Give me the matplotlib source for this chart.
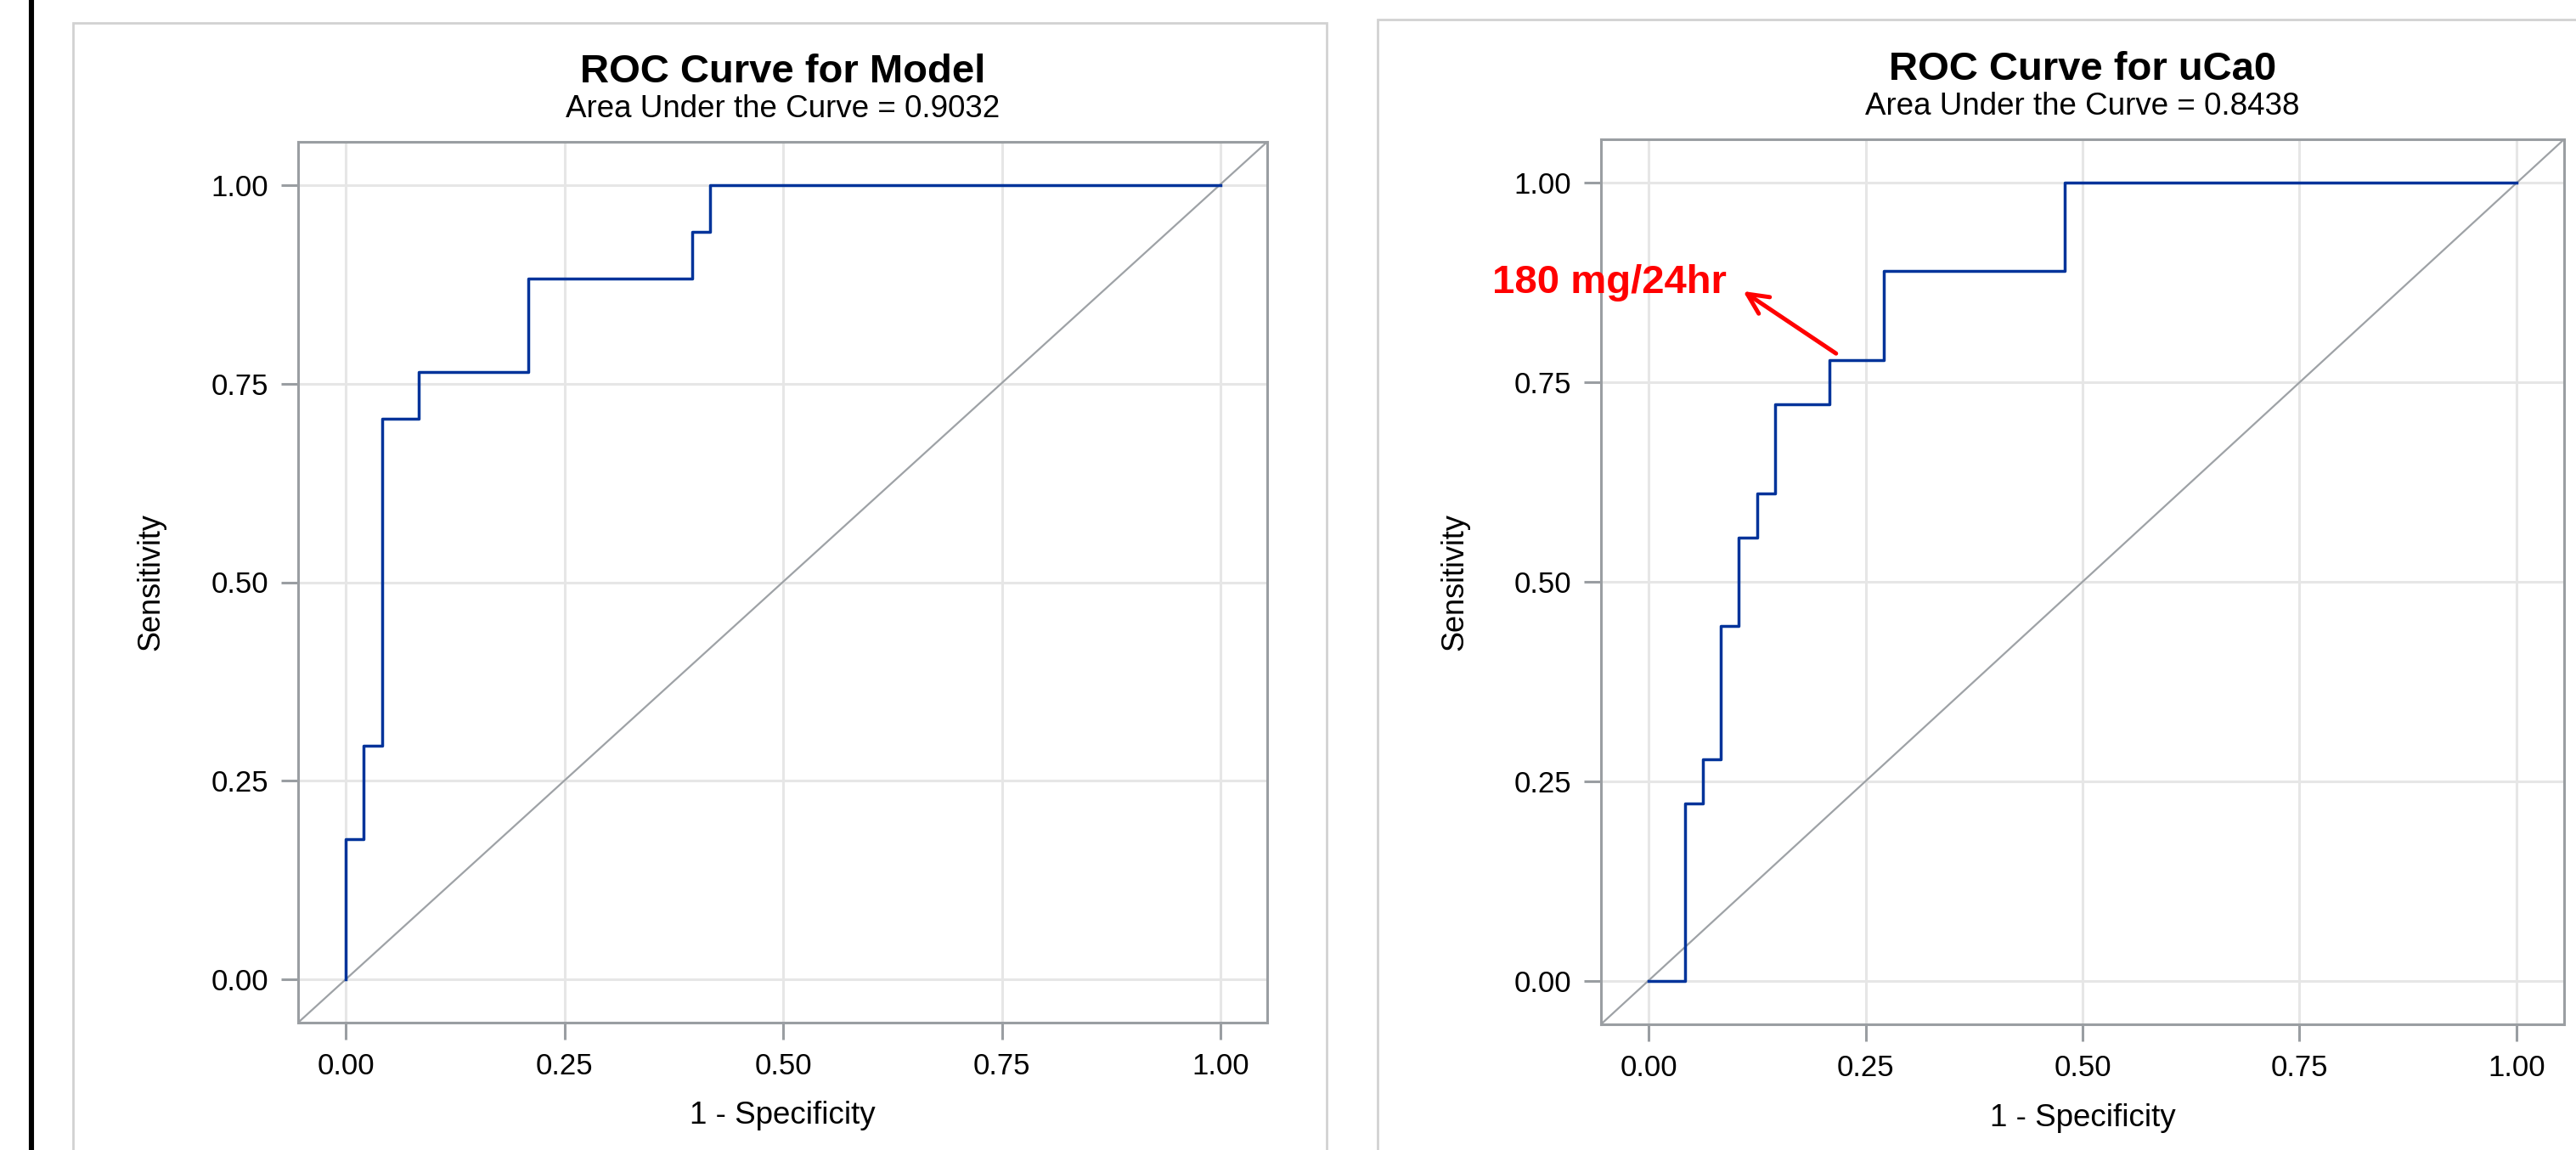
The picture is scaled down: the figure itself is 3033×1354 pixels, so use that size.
import matplotlib
matplotlib.use("Agg")
import matplotlib.pyplot as plt
from matplotlib.patches import Rectangle
from matplotlib.lines import Line2D
from matplotlib.patches import ArrowStyle

plt.rcParams['font.family'] = ['Liberation Sans', 'DejaVu Sans']

# ---------------- data ----------------
model_fpr = [0.0, 0.0, 0.0208, 0.0417, 0.0833, 0.2083, 0.3958, 0.4167, 1.0]
model_tpr = [0.0, 0.1765, 0.2941, 0.7059, 0.7647, 0.8824, 0.9412, 1.0, 1.0]
model_title = "ROC Curve for Model"
model_auc = "Area Under the Curve = 0.9032"

uca_fpr = [0.0, 0.0417, 0.0625, 0.0833, 0.1042, 0.125, 0.1458, 0.2083, 0.2708, 0.4792, 1.0]
uca_tpr = [0.0, 0.2222, 0.2778, 0.4444, 0.5556, 0.6111, 0.7222, 0.7778, 0.8889, 1.0, 1.0]
uca_title = "ROC Curve for uCa0"
uca_auc = "Area Under the Curve = 0.8438"

ticks = [0.0, 0.25, 0.5, 0.75, 1.0]
tick_labels = ["0.00", "0.25", "0.50", "0.75", "1.00"]
annot_text = "180 mg/24hr"
annot_tail = (0.216, 0.786)
annot_head = (0.109, 0.864)
annot_text_pos = (0.090, 0.862)

# ---------------- styling ----------------
W, H = 3033, 1354
CURVE = '#00339A'
DIAG = '#9EA2A6'
SPINE = '#9A9EA2'
GRID = '#E6E6E6'
FRAME = '#D2D2D2'

fig = plt.figure(figsize=(W / 100, H / 100), dpi=100)
fig.patch.set_facecolor('white')


def fx(px):
    return px / W


def fy(py):
    return 1 - py / H


# outer black line at the left
fig.add_artist(Line2D([fx(37), fx(37)], [0, 1], color='black', lw=4.4,
                      transform=fig.transFigure))

# panel frames
fig.add_artist(Rectangle((fx(86), -0.05), fx(1562) - fx(86), fy(27) + 0.05,
                         transform=fig.transFigure, fill=False, ec=FRAME, lw=2.0))
fig.add_artist(Rectangle((fx(1622), -0.05), 0.6, fy(23) + 0.05,
                         transform=fig.transFigure, fill=False, ec=FRAME, lw=2.0))

# axes rectangles (pixel positions)
ax1 = fig.add_axes([fx(351), fy(1204), fx(1492) - fx(351), fy(167) - fy(1204)])
ax2 = fig.add_axes([fx(1885), fy(1206), fx(3019) - fx(1885), fy(164) - fy(1206)])

panels = [
    (ax1, model_fpr, model_tpr, model_title, model_auc, (-0.0544, 1.0534), (-0.0545, 1.0545)),
    (ax2, uca_fpr, uca_tpr, uca_title, uca_auc, (-0.0548, 1.0548), (-0.0543, 1.0543)),
]

for ax, fpr, tpr, title, auc, xl, yl in panels:
    ax.set_xlim(*xl)
    ax.set_ylim(*yl)
    ax.set_axisbelow(True)
    ax.grid(True, color=GRID, lw=2.2)
    # diagonal reference spanning the full axes
    ax.plot([0, 1], [0, 1], transform=ax.transAxes, color=DIAG, lw=1.6, zorder=2)
    ax.plot(fpr, tpr, drawstyle='steps-post', color=CURVE, lw=2.5, zorder=3)
    ax.set_xticks(ticks)
    ax.set_xticklabels(tick_labels)
    ax.set_yticks(ticks)
    ax.set_yticklabels(tick_labels)
    ax.tick_params(axis='both', direction='out', length=14.4, width=2.2,
                   color=SPINE, labelsize=25, labelcolor='black', pad=10.8)
    for s in ax.spines.values():
        s.set_color(SPINE)
        s.set_linewidth(2.2)
    ax.set_xlabel("1 - Specificity", fontsize=26.5)
    ax.set_ylabel("Sensitivity", fontsize=26)
    ax.xaxis.set_label_coords(0.5, -0.106)
    ax.xaxis.label.set_verticalalignment('center')
    ax.yaxis.set_label_coords(-0.152, 0.5)
    ax.yaxis.label.set_verticalalignment('center')
    ax.text(0.5, 1.0675, title, transform=ax.transAxes, ha='center', va='baseline',
            fontsize=34, fontweight='bold')
    ax.text(0.5, 1.028, auc, transform=ax.transAxes, ha='center', va='baseline',
            fontsize=26.5)

# annotation on the right panel
ax2.text(annot_text_pos[0], annot_text_pos[1], annot_text, color='#FF0000',
         fontsize=34, fontweight='bold', ha='right', va='baseline', clip_on=False)
ax2.annotate('', xy=annot_head, xytext=annot_tail, annotation_clip=False,
             arrowprops=dict(arrowstyle=ArrowStyle('->', head_length=0.87, head_width=0.42),
                             mutation_scale=20, color='#FF0000', lw=3.6,
                             shrinkA=0, shrinkB=0, capstyle='round'))

fig.savefig('out.png', dpi=100, facecolor='white')
